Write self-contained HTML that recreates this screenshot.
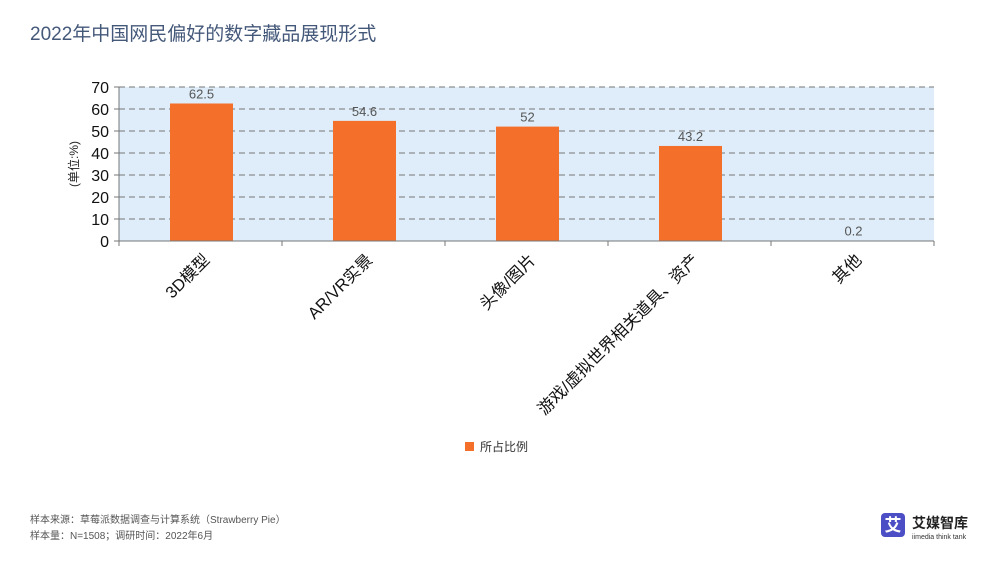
<!DOCTYPE html>
<html><head><meta charset="utf-8"><style>
body{margin:0;width:1000px;height:563px;background:#fff;overflow:hidden;font-family:"Liberation Sans","Noto Sans CJK SC",sans-serif}
</style></head><body>
<svg width="1000" height="563" xmlns="http://www.w3.org/2000/svg" style="font-family:'Liberation Sans','Noto Sans CJK SC',sans-serif">
<text x="30" y="40" font-size="19" fill="#44587a">2022年中国网民偏好的数字藏品展现形式</text>
<rect x="119" y="87" width="815" height="154" fill="#deedf9"/>
<g id="grid"></g>
<g id="bars"></g>
<g id="axes"></g>
<text transform="translate(78,164) rotate(-90)" text-anchor="middle" font-size="12" fill="#222">(单位:%)</text>
<rect x="465" y="442" width="9" height="9" fill="#f46f2a"/>
<text x="480" y="451" font-size="12" fill="#333">所占比例</text>
<text x="30" y="523" font-size="10" fill="#555">样本来源：草莓派数据调查与计算系统（Strawberry Pie）</text>
<text x="30" y="539" font-size="10" fill="#555">样本量：N=1508；调研时间：2022年6月</text>
<g>
<rect x="881" y="513" width="24" height="24" rx="4" fill="#4b4ec4"/>
<text x="893" y="531" text-anchor="middle" font-size="17" font-weight="bold" fill="#fff">艾</text>
<text x="912" y="528" font-size="14" font-weight="bold" fill="#222">艾媒智库</text>
<text x="912" y="539" font-size="7" fill="#333">iimedia think tank</text>
</g>
</svg>
<script>
const categories=["3D模型","AR/VR实景","头像/图片","游戏/虚拟世界相关道具、资产","其他"];
const values=[62.5,54.6,52,43.2,0.2];
const labels=["62.5","54.6","52","43.2","0.2"];
const ticks=[0,10,20,30,40,50,60,70];
const NS="http://www.w3.org/2000/svg";
const x0=119,x1=934,y0=241,y1=87,yMax=70;
const y=v=>y0-(v/yMax)*(y0-y1);
const cw=(x1-x0)/categories.length;
const xc=i=>x0+cw*i+cw/2;
function mk(tag,attrs,parent,txt){const e=document.createElementNS(NS,tag);for(const k in attrs)e.setAttribute(k,attrs[k]);if(txt!==undefined)e.textContent=txt;parent.appendChild(e);return e;}
const grid=document.getElementById('grid'),bars=document.getElementById('bars'),axes=document.getElementById('axes');
ticks.forEach(t=>{
  if(t>0){const l=mk('line',{x1:x0,x2:x1,y1:y(t),y2:y(t),stroke:'#777','stroke-dasharray':'6,4','stroke-width':1},grid);
  
  }
  const tl=mk('line',{x1:x0-5,x2:x0,y1:y(t),y2:y(t),stroke:'#777'},axes);
  
  
  const tx=mk('text',{x:x0-10,y:y(t)+6,'text-anchor':'end','font-size':16,fill:'#111'},axes,String(t));
  
  
});
const ya=mk('line',{x1:x0,x2:x0,y1:y1,y2:y0,stroke:'#777'},axes);


const xa=mk('line',{x1:x0,x2:x1,y1:y0,y2:y0,stroke:'#777'},axes);


for(let i=0;i<=categories.length;i++){
  const t=mk('line',{x1:x0+cw*i,x2:x0+cw*i,y1:y0,y2:y0+5,stroke:'#777'},axes);
  
  
}
const bw=63;
categories.forEach((c,i)=>{
  const bx=x0+cw*i+51;
  const r=mk('rect',{x:bx,y:y(values[i]),width:bw,height:y0-y(values[i]),fill:'#f46f2a'},bars);
  
  
  const vl=mk('text',{x:bx+bw/2,y:y(values[i])-5,'text-anchor':'middle','font-size':13,fill:'#555'},bars,labels[i]);
  
  
  const cx=xc(i)+10,cy=y0+20;
  const cl=mk('text',{x:cx,y:cy,'text-anchor':'end','font-size':16.5,fill:'#111',transform:`rotate(-45 ${cx} ${cy})`},axes,c);
  
  
});
</script>
</body></html>
